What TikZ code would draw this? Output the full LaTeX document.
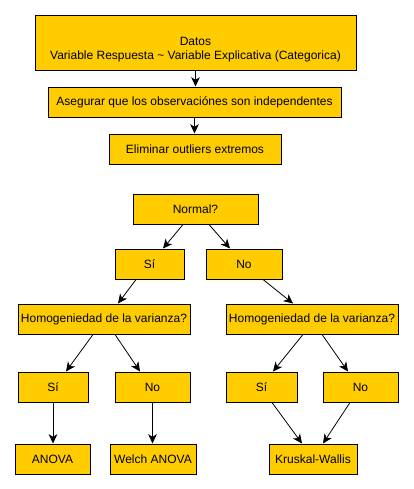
\documentclass[tikz,border=0pt]{standalone}
\usepackage{fontspec}
\setmainfont{Liberation Sans}
\usepackage{xcolor}
\usetikzlibrary{arrows.meta,calc}
\definecolor{boxfill}{HTML}{FFCC00}
\tikzset{box/.style={draw,fill=boxfill,line width=0.75pt,minimum height=22.5pt,
                     inner sep=0pt,font=\fontsize{9}{10.5}\selectfont},
         wd/.style={minimum width=#1*0.75pt},
         arr/.style={draw,line width=0.6pt,-{Stealth[length=7pt,width=6.5pt,inset=2pt]}},
         x=0.75pt,y=-0.75pt
         }

\begin{document}
\begin{tikzpicture}
\useasboundingbox (0,0) rectangle (414,489);
% steps
\node[box,wd=321,minimum height=41.25pt,
      label={[yshift=-5.6pt,align=center,font=\fontsize{9}{10.5}\selectfont]center:Datos\\Variable Respuesta \textasciitilde{} Variable Explicativa (Categorica)}]
      (datos) at (195.5,42.5) {};
\node[box,wd=293] (asegurar) at (194.5,102) {Asegurar que los observaciónes son independentes};
\node[box,wd=172] (eliminar) at (195,149) {Eliminar outliers extremos};
% decisions
\node[box,wd=125] (normal) at (195.5,209) {Normal?};
\node[box,wd=69] (si) at (149.5,264) {Sí};
\node[box,wd=76] (no) at (244,264) {No};
\node[box,wd=172] (homsi) at (104,319) {Homogeniedad de la varianza?};
\node[box,wd=172] (homno) at (312,319) {Homogeniedad de la varianza?};
\node[box,wd=70] (sisi) at (53,387) {Sí};
\node[box,wd=75] (sino) at (152.5,387) {No};
\node[box,wd=71] (nosi) at (261.5,387) {Sí};
\node[box,wd=75] (nono) at (360.5,387) {No};
% tests
\node[box,wd=75] (anova) at (52.5,459) {ANOVA};
\node[box,wd=86] (welch) at (153,459) {Welch ANOVA};
\node[box,wd=88] (kruskal) at (313,459) {Kruskal-Wallis};
% arrows
\draw[arr] (datos.south) -- (datos.south |- asegurar.north);
\draw[arr] (asegurar.south) -- (asegurar.south |- eliminar.north);
\draw[arr] ($(normal.south)+(-12.5,0)$) -- ($(si.north)+(13.5,0)$);
\draw[arr] ($(normal.south)+(13.5,0)$) -- ($(no.north)+(-14,0)$);
\draw[arr] ($(si.south)+(-13.5,0)$) -- ($(homsi.north)+(14,0)$);
\draw[arr] ($(no.south)+(19,0)$) -- ($(homno.north)+(-19,0)$);
\draw[arr] ($(homsi.south)+(-11,0)$) -- ($(sisi.north)+(13,0)$);
\draw[arr] ($(homsi.south)+(11,0)$) -- ($(sino.north)+(-12.5,0)$);
\draw[arr] ($(homno.south)+(-9,0)$) -- ($(nosi.north)+(11.5,0)$);
\draw[arr] ($(homno.south)+(10,0)$) -- ($(nono.north)+(-12.5,0)$);
\draw[arr] (sisi.south) -- (sisi.south |- anova.north);
\draw[arr] (sino.south) -- (sino.south |- welch.north);
\draw[arr] ($(nosi.south)+(10.5,0)$) -- ($(kruskal.north)+(-11,0)$);
\draw[arr] ($(nono.south)+(-10.5,0)$) -- ($(kruskal.north)+(10,0)$);
\end{tikzpicture}
\end{document}
